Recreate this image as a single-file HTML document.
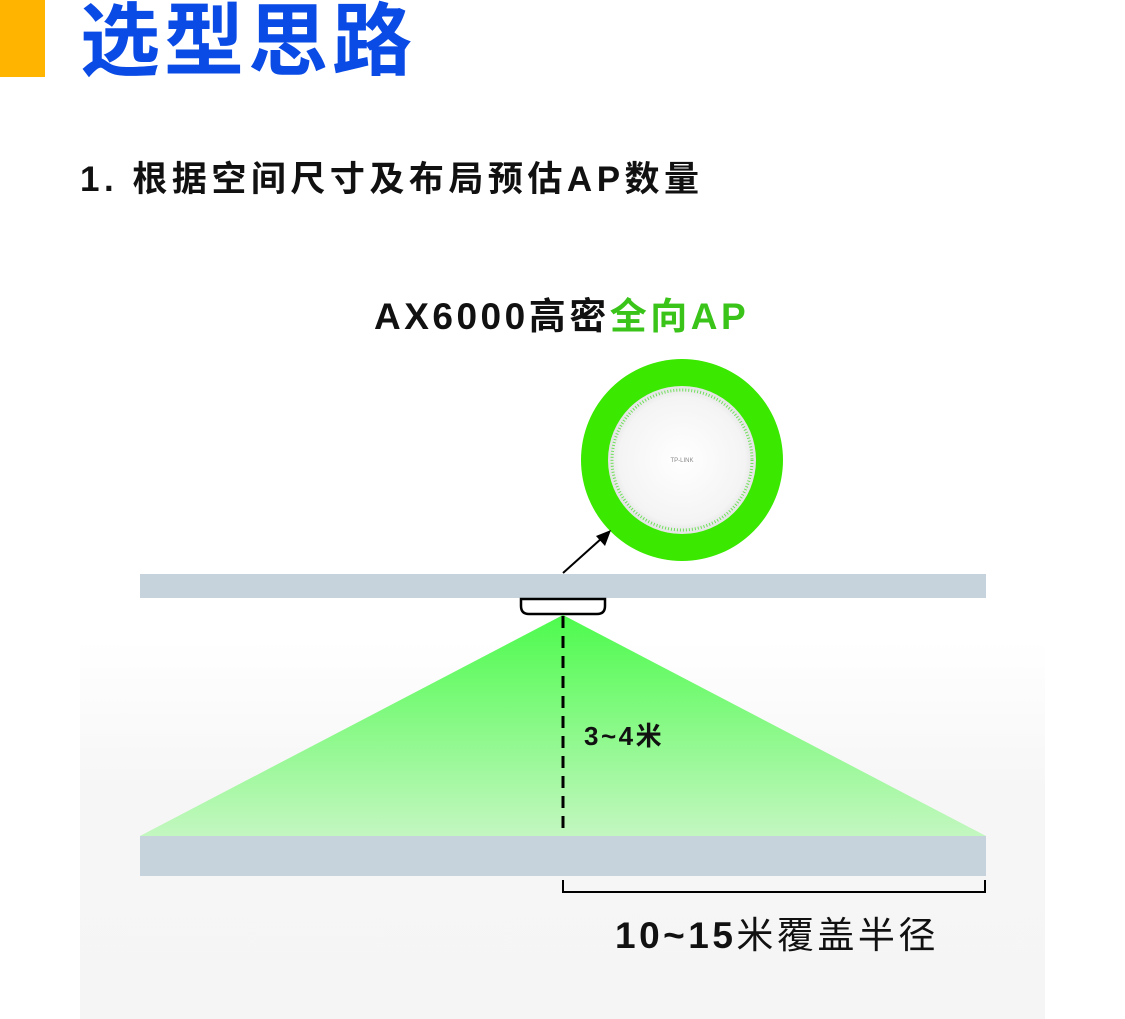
<!DOCTYPE html>
<html><head><meta charset="utf-8"><style>
body{margin:0;width:1125px;height:1019px;background:#fff;overflow:hidden;font-family:"Liberation Sans","Noto Sans CJK SC",sans-serif}
</style></head><body>
<svg width="1125" height="1019" xmlns="http://www.w3.org/2000/svg" style="position:absolute;left:0;top:0">
<defs>
<linearGradient id="bg" x1="0" y1="0" x2="0" y2="1"><stop offset="0" stop-color="#fff"/><stop offset="0.4" stop-color="#f6f6f6"/><stop offset="1" stop-color="#f5f5f5"/></linearGradient>
<linearGradient id="tri" x1="0" y1="0" x2="0" y2="1"><stop offset="0" stop-color="#4dfb4d"/><stop offset="1" stop-color="#c3f7c0"/></linearGradient>
<radialGradient id="disk"><stop offset="0" stop-color="#fff"/><stop offset="0.85" stop-color="#f4f4f4"/><stop offset="1" stop-color="#e4e4e4"/></radialGradient>
</defs>
<rect x="0" y="0" width="45" height="77" fill="#ffb400"/>
<text x="80" y="69" font-size="80" font-weight="bold" fill="#0a4be6" letter-spacing="4" font-family="Liberation Sans,Noto Sans CJK SC,sans-serif">选型思路</text>
<text x="80" y="191" font-size="35" font-weight="bold" fill="#111" letter-spacing="4.5" font-family="Liberation Sans,Noto Sans CJK SC,sans-serif">1. 根据空间尺寸及布局预估AP数量</text>
<text x="374" y="329" font-size="37" font-weight="bold" fill="#111" letter-spacing="3.5" font-family="Liberation Sans,Noto Sans CJK SC,sans-serif">AX6000高密<tspan fill="#3ac41a">全向AP</tspan></text>
<rect x="80" y="640" width="965" height="379" fill="url(#bg)"/>
<circle cx="682" cy="460" r="101" fill="#3ae800"/>
<circle cx="682" cy="460" r="74" fill="url(#disk)"/>
<circle cx="682" cy="460" r="70" fill="none" stroke="#6fe05a" stroke-width="3" stroke-dasharray="1 2"/>
<text x="682" y="462" font-size="6" fill="#888" text-anchor="middle">TP-LINK</text>
<line x1="563" y1="573" x2="602" y2="538" stroke="#000" stroke-width="2"/>
<polygon points="611,530 596,536 605,546" fill="#000"/>
<rect x="140" y="574" width="846" height="24" fill="#c6d3dc"/>
<path d="M521 599 L605 599 L605 606 Q605 614 597 614 L529 614 Q521 614 521 606 Z" fill="#fff" stroke="#000" stroke-width="2.5"/>
<polygon points="563,615 140,836 986,836" fill="url(#tri)"/>
<line x1="563" y1="616" x2="563" y2="836" stroke="#000" stroke-width="3" stroke-dasharray="12 8"/>
<text x="584" y="745" font-size="26" font-weight="bold" fill="#111" letter-spacing="2.5" font-family="Liberation Sans,Noto Sans CJK SC,sans-serif">3~4米</text>
<rect x="140" y="836" width="846" height="40" fill="#c6d3dc"/>
<path d="M563 880 V892 H985 V880" fill="none" stroke="#000" stroke-width="2"/>
<text x="615" y="948" font-size="37" fill="#111" letter-spacing="3.5" font-family="Liberation Sans,Noto Sans CJK SC,sans-serif"><tspan font-weight="bold">10~15</tspan>米覆盖半径</text>
</svg>
</body></html>
